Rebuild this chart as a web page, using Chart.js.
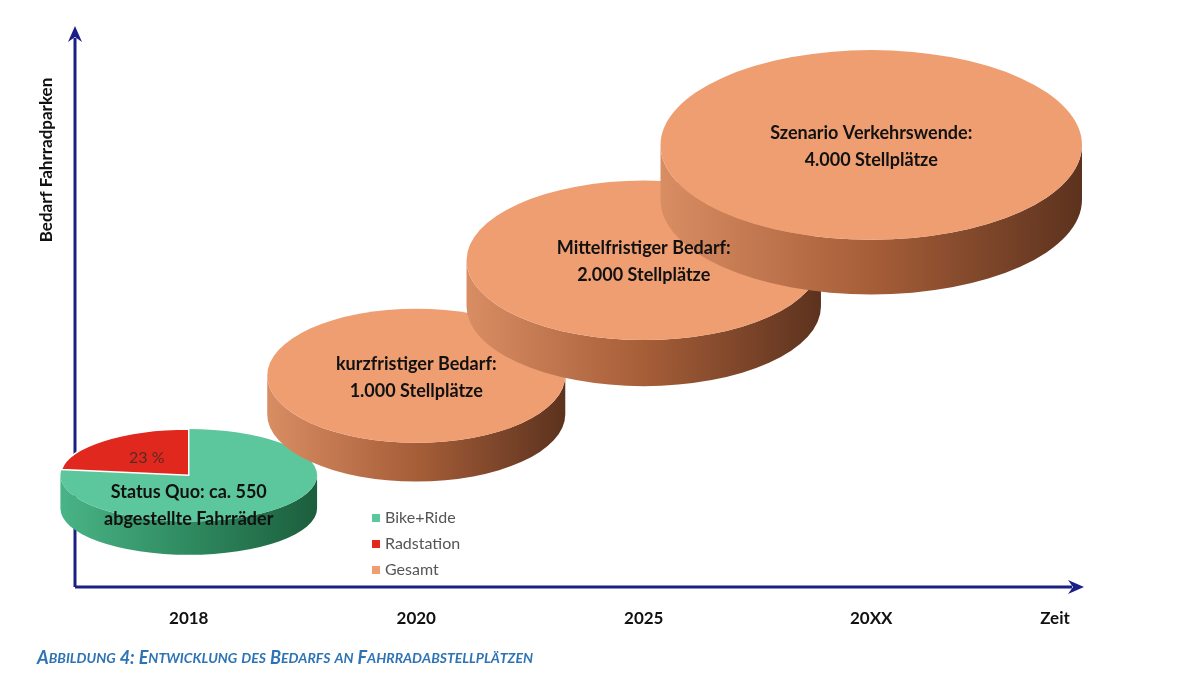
<!DOCTYPE html>
<html><head><meta charset="utf-8">
<script src="https://cdn.jsdelivr.net/npm/chart.js@4"></script>
<style>html,body{margin:0;padding:0;background:#fff}#wrap{width:1200px;height:685px}</style>
</head><body><div id="wrap"><canvas id="c"></canvas></div>
<script>
const categories = ['2018', '2020', '2025', '20XX'];
const values = [550, 1000, 2000, 4000];
const labelLines = [
  ['Status Quo: ca. 550', 'abgestellte Fahrräder'],
  ['kurzfristiger Bedarf:', '1.000 Stellplätze'],
  ['Mittelfristiger Bedarf:', '2.000 Stellplätze'],
  ['Szenario Verkehrswende:', '4.000 Stellplätze']
];
const radstationShare = 0.23;
const legendLabels = ['Bike+Ride', 'Radstation', 'Gesamt'];
const legendColors = ['#5cc79c', '#e0281e', '#ef9e72'];
const xTitle = 'Zeit';
const yTitle = 'Bedarf Fahrradparken';
const caption = 'Abbildung 4: Entwicklung des Bedarfs an Fahrradabstellplätzen';

const NAVY = '#1c1f86';
function sideGrad(ctx, cx, rx, c0, c1, c2) {
  const g = ctx.createLinearGradient(cx - rx, 0, cx + rx, 0);
  g.addColorStop(0, c0); g.addColorStop(0.5, c1); g.addColorStop(1, c2);
  return g;
}
function drawSide(ctx, cx, cy, rx, ry, d, fill) {
  ctx.beginPath();
  ctx.moveTo(cx - rx, cy);
  ctx.lineTo(cx - rx, cy + d);
  ctx.ellipse(cx, cy + d, rx, ry, 0, Math.PI, 0, true);
  ctx.lineTo(cx + rx, cy);
  ctx.ellipse(cx, cy, rx, ry, 0, 0, Math.PI, false);
  ctx.closePath();
  ctx.fillStyle = fill; ctx.fill();
}
function smallCaps(ctx, text, x, y, big, small) {
  let cx = x;
  for (const ch of text) {
    const isLower = ch !== ch.toUpperCase();
    ctx.font = 'italic bold ' + (isLower ? small : big) + 'px Lato';
    const c = ch.toUpperCase();
    ctx.fillText(c, cx, y);
    cx += ctx.measureText(c).width;
  }
}
const discPlugin = {
  id: 'discs',
  afterDatasetsDraw(chart) {
    const ctx = chart.ctx;
    const meta = chart.getDatasetMeta(0);
    const ca = chart.chartArea;
    ctx.save();
    ctx.strokeStyle = NAVY; ctx.fillStyle = NAVY; ctx.lineWidth = 3;
    ctx.beginPath(); ctx.moveTo(ca.left, ca.bottom); ctx.lineTo(ca.left, 38); ctx.stroke();
    ctx.beginPath(); ctx.moveTo(ca.left, 26); ctx.lineTo(ca.left - 7, 42); ctx.lineTo(ca.left, 37); ctx.lineTo(ca.left + 7, 42); ctx.closePath(); ctx.fill();
    ctx.beginPath(); ctx.moveTo(ca.left, ca.bottom); ctx.lineTo(1072, ca.bottom); ctx.stroke();
    ctx.beginPath(); ctx.moveTo(1084, ca.bottom); ctx.lineTo(1068, ca.bottom - 7); ctx.lineTo(1073, ca.bottom); ctx.lineTo(1068, ca.bottom + 7); ctx.closePath(); ctx.fill();
    meta.data.forEach((pt, i) => {
      const v = values[i];
      const cx = pt.x, cy = pt.y;
      const rx = 26.5 * Math.pow(v, 0.25);
      const ry = rx * (i === 0 ? 0.36 : 0.45);
      const d = rx * 0.26;
      if (i === 0) {
        drawSide(ctx, cx, cy, rx, ry, d, sideGrad(ctx, cx, rx, '#49b486', '#2f8a60', '#1c5e3d'));
        ctx.beginPath(); ctx.ellipse(cx, cy, rx, ry, 0, 0, Math.PI * 2); ctx.fillStyle = legendColors[0]; ctx.fill();
        ctx.beginPath(); ctx.moveTo(cx, cy);
        ctx.ellipse(cx, cy, rx, ry, 0, -Math.PI / 2 - radstationShare * 2 * Math.PI, -Math.PI / 2, false);
        ctx.closePath(); ctx.fillStyle = legendColors[1]; ctx.fill();
        ctx.strokeStyle = '#ffffff'; ctx.lineWidth = 1.5; ctx.stroke();
        ctx.fillStyle = '#5a2a22'; ctx.font = '16px Lato'; ctx.textAlign = 'center'; ctx.textBaseline = 'middle';
        ctx.fillText(Math.round(radstationShare * 100) + ' %', cx - 42, cy - 17);
      } else {
        drawSide(ctx, cx, cy, rx, ry, d, sideGrad(ctx, cx, rx, '#d98d63', '#a65e38', '#5c321e'));
        ctx.beginPath(); ctx.ellipse(cx, cy, rx, ry, 0, 0, Math.PI * 2); ctx.fillStyle = legendColors[2]; ctx.fill();
      }
    });
    ctx.fillStyle = '#111'; ctx.font = 'bold 18px Lato'; ctx.textAlign = 'center'; ctx.textBaseline = 'middle';
    meta.data.forEach((pt, i) => {
      const off = i === 0 ? 17 : -12;
      ctx.fillText(labelLines[i][0], pt.x, pt.y + off);
      ctx.fillText(labelLines[i][1], pt.x, pt.y + off + 27);
    });
    ctx.textAlign = 'left'; ctx.textBaseline = 'middle'; ctx.font = '16px Lato';
    legendLabels.forEach((l, i) => {
      const y = 518 + i * 26;
      ctx.fillStyle = legendColors[i]; ctx.fillRect(372, y - 4, 8, 8);
      ctx.fillStyle = '#555'; ctx.fillText(l, 385, y);
    });
    ctx.fillStyle = '#111'; ctx.font = 'bold 17px Lato'; ctx.textAlign = 'center';
    meta.data.forEach((pt, i) => ctx.fillText(categories[i], pt.x, 619));
    ctx.fillText(xTitle, 1055, 619);
    ctx.save(); ctx.translate(47, 160); ctx.rotate(-Math.PI / 2);
    ctx.fillText(yTitle, 0, 0); ctx.restore();
    ctx.fillStyle = '#2e74b5'; ctx.textAlign = 'left';
    smallCaps(ctx, caption, 37, 658, 18, 14);
    ctx.restore();
  }
};
new Chart(document.getElementById('c'), {
  type: 'scatter',
  data: { labels: categories, datasets: [{ label: 'Gesamt', data: categories.map((c, i) => ({ x: c, y: values[i] })), pointRadius: 0 }] },
  options: {
    responsive: true, maintainAspectRatio: false, animation: false,
    layout: { padding: { left: 75, right: 215, top: 30, bottom: 98 } },
    plugins: { legend: { display: false }, tooltip: { enabled: false } },
    scales: {
      x: { type: 'category', labels: categories, offset: true, display: false },
      y: { type: 'logarithmic', min: 281, max: 7980, display: false }
    }
  },
  plugins: [discPlugin]
});
</script></body></html>
